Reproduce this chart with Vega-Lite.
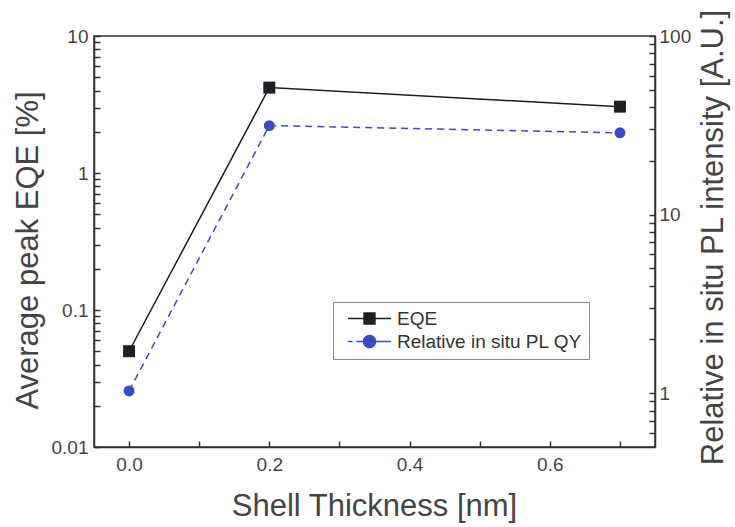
{
  "$schema": "https://vega.github.io/schema/vega-lite/v6.json",
  "width": 561,
  "height": 411,
  "autosize": {"type": "none"},
  "padding": {"left": 94, "top": 36, "right": 80, "bottom": 80},
  "background": "white",
  "config": {
    "font": "Liberation Sans",
    "view": {"stroke": "#333", "strokeWidth": 1.5},
    "axis": {"grid": false, "domainColor": "#333", "domainWidth": 1.5, "tickColor": "#333", "tickWidth": 1.5, "labelColor": "#444", "titleColor": "#444", "labelFontSize": 19, "titleFontSize": 31, "titleFontWeight": "normal", "labelFont": "Liberation Sans", "titleFont": "Liberation Sans"}
  },
  "data": {"values": [
    {"t": 0.0, "eqe": 0.05, "pl": 1.03},
    {"t": 0.2, "eqe": 4.2, "pl": 31.5},
    {"t": 0.7, "eqe": 3.05, "pl": 28.7}
  ]},
  "encoding": {
    "x": {"field": "t", "type": "quantitative",
      "scale": {"domain": [-0.05, 0.75], "nice": false, "zero": false},
      "axis": {"title": "Shell Thickness [nm]", "values": [0, 0.1, 0.2, 0.3, 0.4, 0.5, 0.6, 0.7],
        "labelExpr": "(datum.value==0||datum.value==0.2||datum.value==0.4||datum.value==0.6) ? format(datum.value,'.1f') : ''",
        "tickSize": -6,
        "labelPadding": 14, "titleX": 280, "titleY": 68, "titleBaseline": "alphabetic", "titleAnchor": "middle"}}
  },
  "layer": [
    {
      "encoding": {
        "y": {"field": "eqe", "type": "quantitative",
          "scale": {"type": "log", "domain": [0.01, 10], "nice": false},
          "axis": {"orient": "left", "title": "Average peak EQE [%]",
            "values": [0.01,0.02,0.03,0.04,0.05,0.06,0.07,0.08,0.09,0.1,0.2,0.3,0.4,0.5,0.6,0.7,0.8,0.9,1,2,3,4,5,6,7,8,9,10],
            "labelExpr": "datum.value==0.01?'0.01':datum.value==0.1?'0.1':datum.value==1?'1':datum.value==10?'10':''",
            "tickSize": -6,
            "labelPadding": 12, "titleX": -66, "titleY": 214, "titleAngle": -90, "titleBaseline": "middle", "titleAlign": "center"}},
        "color": {"datum": "EQE", "type": "nominal",
          "scale": {"domain": ["EQE", "Relative in situ PL QY"], "range": ["#1e1e24", "#3a4cc4"]},
          "legend": {"title": null, "orient": "none", "legendX": 239, "legendY": 266,
            "fillColor": "white", "strokeColor": "#888", "padding": 7, "labelLimit": 0,
            "labelFontSize": 19, "labelColor": "#333", "symbolOffset": 20, "labelOffset": 18, "rowPadding": 3, "symbolSize": 144,
            "encode": {"symbols": {"update": {
              "shape": {"signal": "datum.value=='EQE' ? 'M-3.6,0H-0.9M0.9,0H3.6M-0.9,-0.9H0.9V0.9H-0.9Z' : 'M-3.6,0H-2.8M-2.2,0H-1M1,0H3.6M1,0A1,1 0 1 1 -1,0A1,1 0 1 1 1,0Z'"},
              "fill": {"signal": "datum.value=='EQE' ? '#2b2f3d' : '#3a4cc4'"},
              "stroke": {"signal": "datum.value=='EQE' ? '#1e1e24' : '#4a5bd0'"},
              "strokeWidth": {"value": 1.5},
              "strokeDash": {"value": [1, 0]},
              "opacity": {"value": 1}
            }}}}}
      },
      "layer": [
        {"mark": {"type": "line", "color": "#1e1e24", "strokeWidth": 1.5}},
        {"mark": {"type": "point", "shape": "square", "filled": true, "size": 144, "color": "#2b2f3d", "opacity": 1}}
      ]
    },
    {
      "encoding": {
        "y": {"field": "pl", "type": "quantitative",
          "scale": {"type": "log", "domain": [0.5, 100], "nice": false},
          "axis": {"orient": "right", "title": "Relative in situ PL intensity [A.U.]",
            "values": [0.6,0.7,0.8,0.9,1,2,3,4,5,6,7,8,9,10,20,30,40,50,60,70,80,90,100],
            "labelExpr": "datum.value==1?'1':datum.value==10?'10':datum.value==100?'100':''",
            "tickSize": -6,
            "labelPadding": 10, "titleX": 58, "titleY": 201, "titleAngle": -90, "titleBaseline": "middle", "titleAlign": "center"}},
        "color": {"datum": "Relative in situ PL QY", "type": "nominal"}
      },
      "layer": [
        {"mark": {"type": "line", "color": "#4a5bd0", "strokeWidth": 1.5, "strokeDash": [7, 5]}},
        {"mark": {"type": "point", "shape": "circle", "filled": true, "size": 120, "color": "#3a4cc4", "opacity": 1}}
      ]
    }
  ],
  "resolve": {"scale": {"y": "independent"}}
}
